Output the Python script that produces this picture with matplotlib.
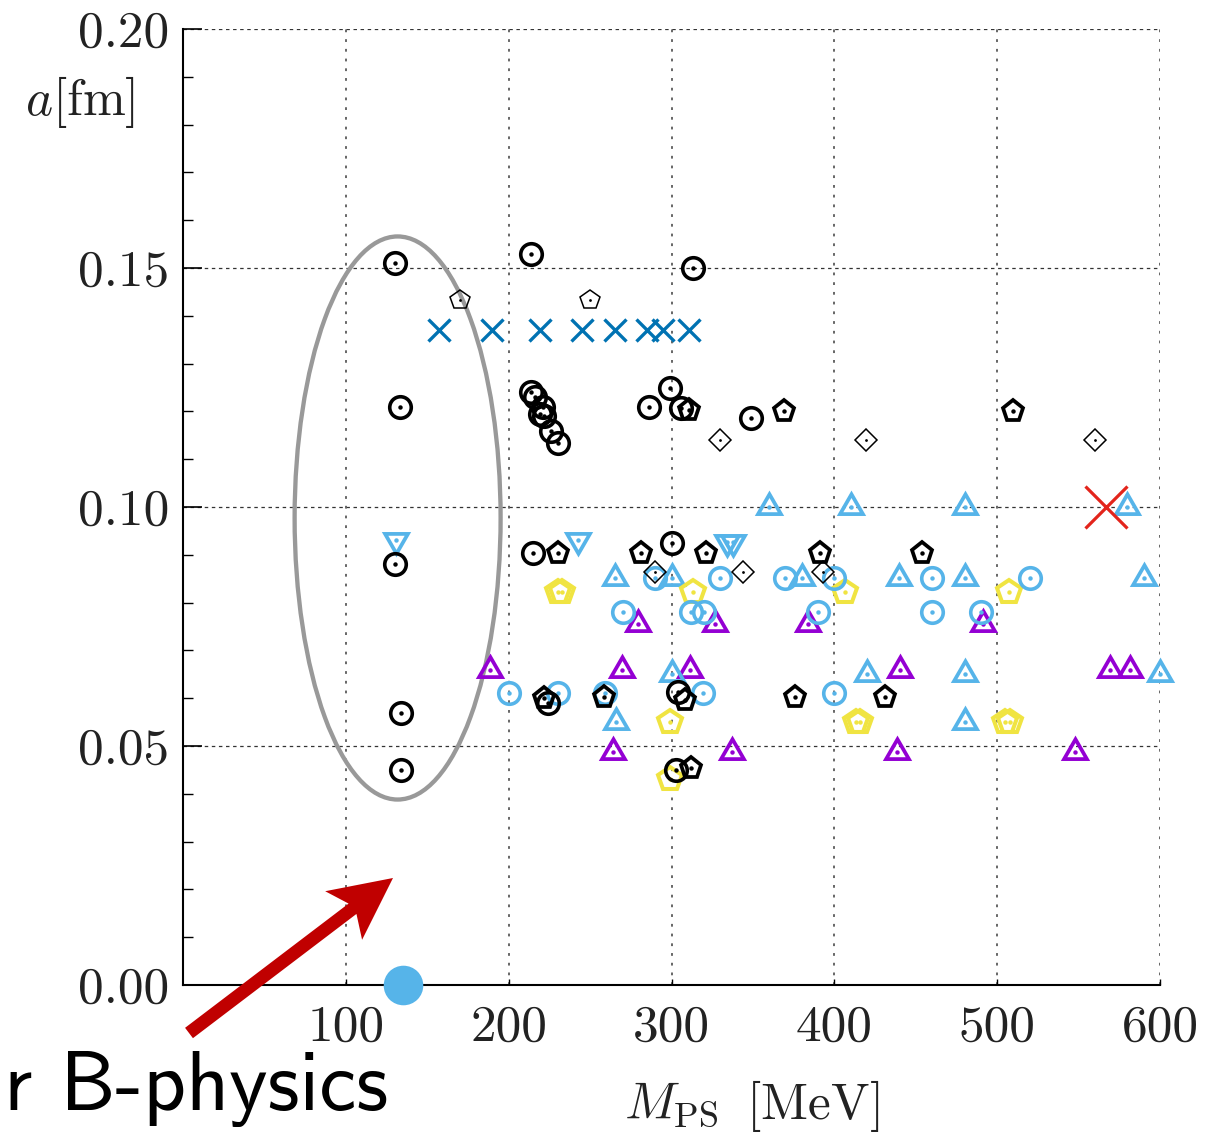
import matplotlib
matplotlib.use("Agg")
import matplotlib.pyplot as plt
from matplotlib.patches import Ellipse, FancyArrow

plt.rcParams["mathtext.fontset"] = "cm"
plt.rcParams["lines.scale_dashes"] = False

# ---------------------------------------------------------------- data
# lattice ensembles: pion mass M_PS [MeV] vs lattice spacing a [fm]
circ_blk_x = [130, 133, 130, 134, 134, 214, 313, 214, 216, 221, 219, 222, 226, 230,
              299, 286, 306, 349, 215, 300, 304, 224, 303]
circ_blk_y = [0.151, 0.121, 0.088, 0.057, 0.045, 0.153, 0.150, 0.124, 0.123, 0.121,
              0.1195, 0.119, 0.116, 0.1133, 0.125, 0.121, 0.1207, 0.1186, 0.0904,
              0.0925, 0.0613, 0.059, 0.045]

pent_blk_x = [311, 369, 510, 230, 281, 321, 391, 454, 376, 431, 258.5, 222, 308, 312]
pent_blk_y = [0.1203, 0.1201, 0.1201, 0.0904, 0.0904, 0.0904, 0.0904, 0.0904,
              0.0602, 0.0602, 0.0602, 0.0600, 0.0596, 0.0453]

pent_thin_x = [170, 250]
pent_thin_y = [0.1433, 0.1433]

diam_x = [330, 419.5, 560, 290, 344, 393]
diam_y = [0.114, 0.114, 0.114, 0.0865, 0.0865, 0.0865]

cross_x = [157, 190, 219, 245, 265, 285, 295, 311]
cross_y = [0.137] * 8

tri_lb_x = [360, 410, 480, 580, 265, 300, 380, 440, 480, 590, 300, 420, 480, 600, 266, 480]
tri_lb_y = [0.1001, 0.1001, 0.1001, 0.1001, 0.0851, 0.0851, 0.0851, 0.0851, 0.0851,
            0.0851, 0.0651, 0.0651, 0.0651, 0.0651, 0.0551, 0.0551]

tridn_lb_x = [131, 242.5, 334, 338]
tridn_lb_y = [0.0931, 0.0931, 0.0927, 0.0927]

circ_lb_x = [200, 230, 259, 319.5, 400, 270, 312, 320, 390, 460, 490,
             290, 330, 370, 400, 460, 520]
circ_lb_y = [0.061, 0.061, 0.061, 0.061, 0.061, 0.078, 0.078, 0.078, 0.078, 0.078,
             0.078, 0.0851, 0.0851, 0.0851, 0.0851, 0.0851, 0.0851]

pent_yel_x = [230, 233, 313, 406.5, 507.5, 299, 413, 416, 505, 508, 299]
pent_yel_y = [0.0822, 0.0822, 0.0823, 0.0823, 0.0823, 0.0550, 0.0551, 0.0551,
              0.0551, 0.0551, 0.0432]

tri_pu_x = [188.5, 269.4, 311.4, 440.3, 569.3, 581.6, 279.6, 326.6, 384, 491,
            264.3, 337, 438.3, 548]
tri_pu_y = [0.066, 0.066, 0.066, 0.066, 0.066, 0.066, 0.0755, 0.0755, 0.0755,
            0.0755, 0.0488, 0.0488, 0.0488, 0.0488]

red_x, red_y = [567], [0.100]
phys_x, phys_y = [135], [0.0]

x_ticks = [100, 200, 300, 400, 500, 600]
y_ticks = [0.00, 0.05, 0.10, 0.15, 0.20]

# ---------------------------------------------------------------- figure
W, H = 1228, 1133
fig = plt.figure(figsize=(W / 100, H / 100), dpi=100)
ax = fig.add_axes([183 / W, 148 / H, 977 / W, 956 / H])
ax.set_xlim(0, 600)
ax.set_ylim(0, 0.20)

for s in ("top", "right"):
    ax.spines[s].set_visible(False)
for s in ("left", "bottom"):
    ax.spines[s].set_linewidth(1.5)
    ax.spines[s].set_zorder(2)

TXT = "#222222"
ax.set_xticks(x_ticks)
ax.set_yticks(y_ticks)
ax.set_yticks([i / 100 for i in range(21)], minor=True)
ax.set_xticklabels([str(v) for v in x_ticks], fontfamily="cmr10", fontsize=37, color=TXT)
ax.set_yticklabels([f"{v:.2f}" for v in y_ticks], fontfamily="cmr10", fontsize=37, color=TXT)
ax.tick_params(axis="y", which="major", direction="in", length=14, width=1.2, pad=10)
ax.tick_params(axis="y", which="minor", direction="in", length=7, width=1.0)
ax.tick_params(axis="x", which="major", direction="in", length=4, width=1.0, pad=14)

# grid: dashed horizontals, dotted grey verticals
for v in y_ticks[1:]:
    ax.axhline(v, color="#333333", lw=0.9, dashes=(2.5, 2.6), zorder=1)
for v in x_ticks:
    ax.axvline(v, color="#5a5a5a", lw=1.3, dashes=(2.0, 5.0), zorder=1)


def sym(x, y, marker, color, ms, mew, dot=3.2):
    ax.plot(x, y, ls="none", marker=marker, ms=ms, mfc="none", mec=color,
            mew=mew, zorder=3, clip_on=False)
    if dot:
        ax.plot(x, y, ls="none", marker="o", ms=dot, mfc=color, mec="none",
                zorder=3, clip_on=False)


BLACK = "#000000"
LBLUE = "#56b4e9"
BLUE = "#0072b2"
YELLOW = "#f0e442"
PURPLE = "#9400d3"

sym(tri_pu_x, tri_pu_y, (3, 0, 0), PURPLE, 19, 2.7)
sym(tri_lb_x, tri_lb_y, (3, 0, 0), LBLUE, 19, 2.7)
sym(tridn_lb_x, tridn_lb_y, (3, 0, 180), LBLUE, 19, 2.7)
sym(pent_yel_x, pent_yel_y, "p", YELLOW, 18, 2.9)
sym(circ_lb_x, circ_lb_y, "o", LBLUE, 15.5, 2.6)
sym(diam_x, diam_y, "D", BLACK, 11, 1.1, dot=2.0)
sym(pent_thin_x, pent_thin_y, "p", BLACK, 15, 1.1, dot=2.0)
sym(pent_blk_x, pent_blk_y, "p", BLACK, 15.5, 2.7)
sym(circ_blk_x, circ_blk_y, "o", BLACK, 15.5, 2.6)
ax.plot(cross_x, cross_y, ls="none", marker="x", ms=16, mec=BLUE, mew=2.4, zorder=3)
ax.plot(red_x, red_y, ls="none", marker="x", ms=30, mec="#e3241b", mew=2.3, zorder=4)

# physical point
ax.plot(phys_x, phys_y, ls="none", marker="o", ms=28.5, mfc=LBLUE, mec="none",
        zorder=5, clip_on=False)

# ellipse around the physical-mass ensembles
ax.add_patch(Ellipse((131.8, 0.0977), width=126.5, height=0.1178, fill=False,
                     ec="#999999", lw=3.1, zorder=2))

# axis labels
fig.text(80 / W, 1 - 102 / H, r"$a[\mathrm{fm}]$", fontsize=37, ha="center",
         va="center", color=TXT)
fig.text(752 / W, 1 - 1106 / H, r"$M_{\mathrm{PS}}\;\;[\mathrm{MeV}]$", fontsize=37,
         ha="center", va="center", color=TXT)

# annotation arrow and text
fig.add_artist(FancyArrow(1.89, (H - 1033) / 100, 2.04, 1.55, width=0.13,
                          head_width=0.61, head_length=0.62, overhang=0.18,
                          length_includes_head=True, color="#c00000", lw=0,
                          transform=fig.dpi_scale_trans, zorder=6))
fig.text(4 / W, 1 - 1110 / H, "r B-physics", fontfamily="cmss10", fontsize=60,
         ha="left", va="baseline", color="black")

fig.savefig("out.png", dpi=100)
